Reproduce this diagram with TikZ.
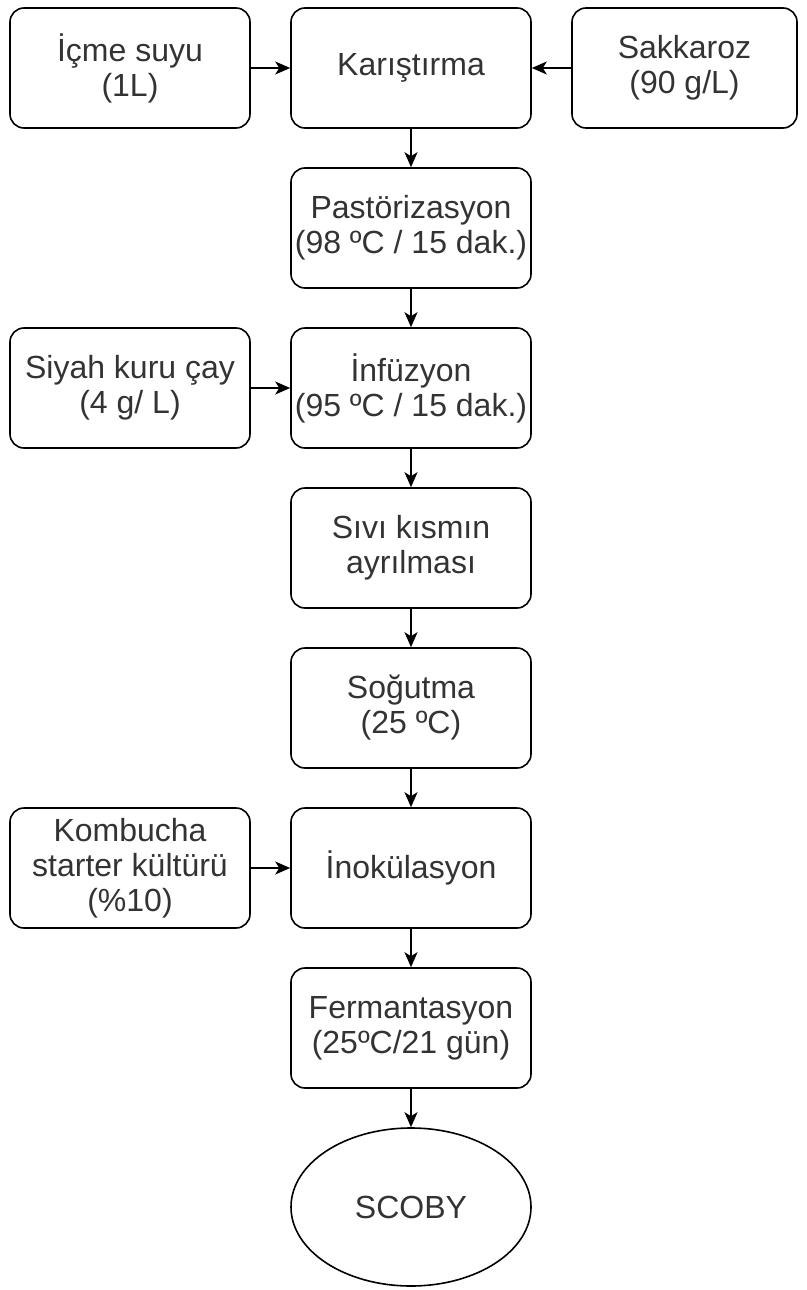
\documentclass[tikz,border=0pt]{standalone}
\usepackage{fontspec}
\setmainfont{Liberation Sans}
\usetikzlibrary{shapes.geometric, arrows.meta}
\tikzstyle{procbox} = [rectangle, rounded corners=14pt, minimum width=240pt, minimum height=120pt, inner sep=2pt, text centered, align=center, draw=black, line width=1.6pt, text=black!80, font=\fontsize{32}{35}\selectfont]
\tikzstyle{endnode} = [ellipse, minimum width=240pt, minimum height=158pt, inner sep=0pt, text centered, draw=black, line width=1.6pt, text=black!80, font=\fontsize{32}{35}\selectfont]
\tikzstyle{arrow} = [line width=1.6pt, -{Stealth[length=15pt, width=13pt, inset=4pt]}]

\begin{document}
\begin{tikzpicture}[node distance=160pt]
\useasboundingbox (0pt,0pt) rectangle (806pt,-1290pt);
\node (mix) [procbox] at (411pt,-68pt) {Karıştırma};
\node (water) [procbox, left of=mix, node distance=281pt] {İçme suyu\\(1L)};
\node (sugar) [procbox, right of=mix, node distance=273.5pt, minimum width=225pt] {Sakkaroz\\(90 g/L)};
\node (past) [procbox, below of=mix] {Pastörizasyon\\(98 ºC / 15 dak.)};
\node (inf) [procbox, below of=past] {İnfüzyon\\(95 ºC / 15 dak.)};
\node (tea) [procbox, left of=inf, node distance=281pt] {Siyah kuru çay\\(4 g/ L)};
\node (sep) [procbox, below of=inf] {Sıvı kısmın\\ayrılması};
\node (cool) [procbox, below of=sep] {Soğutma\\(25 ºC)};
\node (inoc) [procbox, below of=cool] {İnokülasyon};
\node (starter) [procbox, left of=inoc, node distance=281pt] {Kombucha\\starter kültürü\\(\%10)};
\node (ferm) [procbox, below of=inoc] {Fermantasyon\\(25ºC/21 gün)};
\node (scoby) [endnode, below of=ferm, node distance=179pt] {SCOBY};
\draw [arrow] (water) -- (mix);
\draw [arrow] (sugar) -- (mix);
\draw [arrow] (mix) -- (past);
\draw [arrow] (past) -- (inf);
\draw [arrow] (tea) -- (inf);
\draw [arrow] (inf) -- (sep);
\draw [arrow] (sep) -- (cool);
\draw [arrow] (cool) -- (inoc);
\draw [arrow] (starter) -- (inoc);
\draw [arrow] (inoc) -- (ferm);
\draw [arrow] (ferm) -- (scoby);
\end{tikzpicture}
\end{document}
